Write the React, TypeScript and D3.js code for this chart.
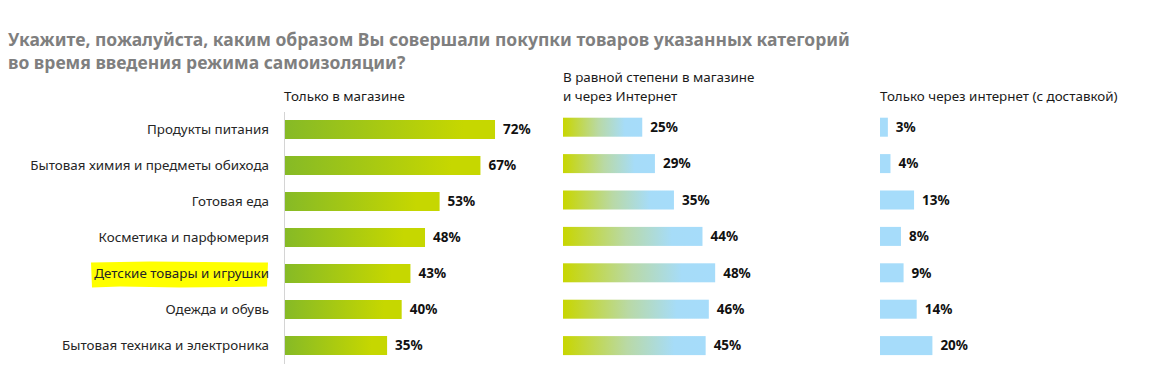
import React from "react";
import * as d3 from "d3";

const titleLines = [
  "Укажите, пожалуйста, каким образом Вы совершали покупки товаров указанных категорий",
  "во время введения режима самоизоляции?",
];
const categories = [
  "Продукты питания",
  "Бытовая химия и предметы обихода",
  "Готовая еда",
  "Косметика и парфюмерия",
  "Детские товары и игрушки",
  "Одежда и обувь",
  "Бытовая техника и электроника",
];
const highlighted = "Детские товары и игрушки";
const storeOnly = [72, 67, 53, 48, 43, 40, 35];
const both = [25, 29, 35, 44, 48, 46, 45];
const onlineOnly = [3, 4, 13, 8, 9, 14, 20];
const header1 = ["Только в магазине"];
const header2 = ["В равной степени в магазине", "и через Интернет"];
const header3 = ["Только через интернет (с доставкой)"];

const W = 1157;
const H = 369;
const FONT = "'Noto Sans', 'Open Sans', sans-serif";
const BAR_H = 19;

export default function App() {
  const x1 = d3.scaleLinear().domain([0, 100]).range([285, 285 + 291.7]);
  const x2 = d3.scaleLinear().domain([0, 100]).range([563, 563 + 317]);
  const x3 = d3.scaleLinear().domain([0, 100]).range([880, 880 + 262]);
  const y1 = d3.scalePoint<string>().domain(categories).range([129.5, 129.5 + 6 * 36]);
  const y2 = d3.scalePoint<string>().domain(categories).range([127.2, 127.2 + 6 * 36.4]);

  const panels = [
    { x: x1, y: y1, vals: storeOnly, fill: "url(#g1)" },
    { x: x2, y: y2, vals: both, fill: "url(#g2)" },
    { x: x3, y: y2, vals: onlineOnly, fill: "#a6dcfa" },
  ];

  const hy = y1(highlighted)!;
  const hl = `M91,${hy - 11} L150,${hy - 12} L268,${hy - 11} L267,${hy + 13} L180,${hy + 14} L120,${hy + 13} L92,${hy + 14} Z`;

  return (
    <svg
      width={W}
      height={H}
      style={{ position: "absolute", left: 0, top: 0, background: "#fff" }}
      fontFamily={FONT}
    >
      <defs>
        <linearGradient id="g1" x1="0" x2="1" y1="0" y2="0">
          <stop offset="0" stopColor="#86ba26" />
          <stop offset="0.85" stopColor="#c6d700" />
          <stop offset="1" stopColor="#c6d700" />
        </linearGradient>
        <linearGradient id="g2" x1="0" x2="1" y1="0" y2="0">
          <stop offset="0" stopColor="#c8d600" />
          <stop offset="0.45" stopColor="#b9d9a6" />
          <stop offset="0.78" stopColor="#a6dcf8" />
          <stop offset="1" stopColor="#a6dcfa" />
        </linearGradient>
      </defs>

      {titleLines.map((t, i) => (
        <text key={i} x={8} y={46 + i * 23} fontSize={17.5} fontWeight="bold" fill="#7f7f7f">
          {t}
        </text>
      ))}

      {header1.map((t, i) => (
        <text key={"h1" + i} x={284} y={101 + i * 19} fontSize={13.4} fill="#1a1a1a">{t}</text>
      ))}
      {header2.map((t, i) => (
        <text key={"h2" + i} x={563} y={82 + i * 19} fontSize={13.4} fill="#1a1a1a">{t}</text>
      ))}
      {header3.map((t, i) => (
        <text key={"h3" + i} x={880} y={101 + i * 19} fontSize={13.4} fill="#1a1a1a">{t}</text>
      ))}

      <path d={hl} fill="#ffff00" />

      {categories.map((c) => (
        <text
          key={c}
          x={269}
          y={y1(c)!}
          dy="0.35em"
          textAnchor="end"
          fontSize={13.4}
          fill="#262626"
        >
          {c}
        </text>
      ))}

      <line x1={284.5} x2={284.5} y1={112} y2={364} stroke="#d4d4d4" strokeWidth={1} />

      {panels.map((p, pi) => (
        <g key={pi}>
          {categories.map((c, i) => (
            <g key={c}>
              <rect
                x={p.x(0)}
                y={p.y(c)! - BAR_H / 2}
                width={p.x(p.vals[i]) - p.x(0)}
                height={BAR_H}
                fill={p.fill}
              />
              <text
                x={p.x(p.vals[i]) + 8}
                y={p.y(c)!}
                dy="0.35em"
                fontSize={13.5}
                fontWeight="bold"
                fill="#111"
              >
                {p.vals[i]}%
              </text>
            </g>
          ))}
        </g>
      ))}
    </svg>
  );
}
